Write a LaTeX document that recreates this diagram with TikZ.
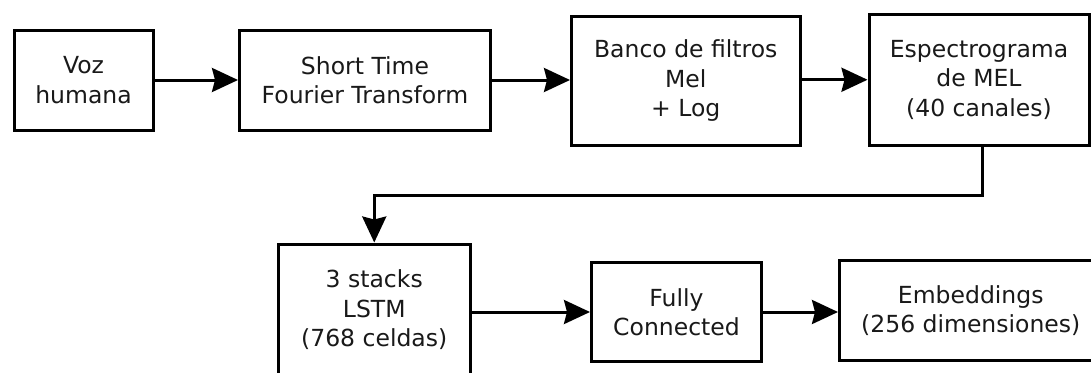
\documentclass[tikz,border=0pt]{standalone}
\usepackage{fontspec}
\setmainfont{DejaVu Sans}
\usetikzlibrary{arrows.meta}

\tikzset{
  blockbox/.style={draw=black, line width=3pt, fill=white, inner sep=0pt,
    align=center, text=black!90,
    font=\fontsize{23.5}{29.5}\selectfont},
  flow/.style={line width=3pt, -{Stealth[length=26pt,width=24pt,inset=3pt]}},
}

\begin{document}
\begin{tikzpicture}[x=1pt, y=-1pt]
  % page frame
  \useasboundingbox (0,0) rectangle (1091,372);
  \fill[white] (0,0) rectangle (1091,372);
  \clip (0,0) rectangle (1091,372);

  % upper row
  \node[blockbox, minimum width=139pt, minimum height=100pt]
    (voz) at (83.5,80) {Voz\\humana};
  \node[blockbox, minimum width=251pt, minimum height=100pt]
    (stft) at (365,80) {Short Time\\Fourier Transform};
  \node[blockbox, minimum width=228.5pt, minimum height=129pt]
    (banco) at (685.75,81) {Banco de filtros\\Mel\\+ Log};
  \node[blockbox, minimum width=220pt, minimum height=130.5pt]
    (esp) at (979,79.75) {Espectrograma\\de MEL\\(40 canales)};

  % lower row
  \node[blockbox, minimum width=191.5pt, minimum height=132pt]
    (lstm) at (374.25,310) {3 stacks\\LSTM\\(768 celdas)};
  \node[blockbox, minimum width=170pt, minimum height=99pt]
    (fc) at (676.5,312) {Fully\\Connected};
  \node[blockbox, minimum width=262.5pt, minimum height=100pt]
    (emb) at (970.75,310.5) {Embeddings\\(256 dimensiones)};

  % bend of the return line
  \coordinate (turn) at (982,195);

  % connectors
  \draw[flow] (voz.east) -- (stft.west);
  \draw[flow] (stft.east) -- (banco.west |- stft.east);
  \draw[flow] (banco.east |- esp.west) -- (esp.west);
  \draw[flow] (esp.south -| turn) -- (turn) -- (lstm.north |- turn) -- (lstm.north);
  \draw[flow] (lstm.east |- fc.west) -- (fc.west);
  \draw[flow] (fc.east) -- (emb.west |- fc.east);
\end{tikzpicture}
\end{document}
